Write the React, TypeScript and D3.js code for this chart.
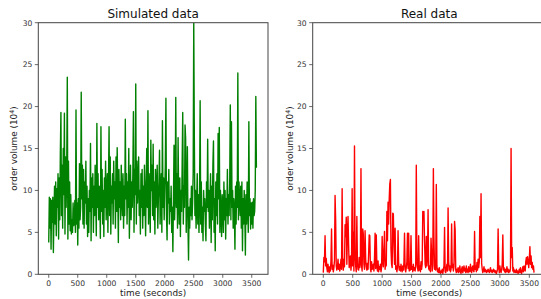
import React from "react";
import * as d3 from "d3";

const STEP = 10;
const simValues: number[] = [
  3.8, 9.2, 5.5, 9.0, 3.0, 8.8, 6.2, 9.2, 2.6, 7.0,
  10.5, 6.0, 11.0, 4.6, 10.2, 8.0, 12.0, 4.2, 11.5, 6.5,
  14.5, 19.3, 7.0, 13.0, 5.5, 15.0, 9.5, 19.2, 4.8, 14.0,
  8.0, 12.5, 23.5, 4.2, 13.5, 6.0, 11.0, 5.2, 9.5, 4.8,
  6.5, 5.0, 8.5, 5.8, 6.2, 8.8, 5.0, 19.6, 6.0, 8.5,
  3.5, 9.0, 5.5, 13.2, 6.5, 8.0, 21.7, 9.0, 13.0, 6.0,
  12.5, 5.5, 11.0, 8.5, 13.5, 6.0, 10.5, 4.5, 9.0, 5.0,
  10.0, 7.5, 15.6, 4.0, 11.5, 8.0, 12.0, 5.0, 10.5, 7.0,
  13.0, 9.0, 4.6, 18.0, 8.0, 12.0, 6.5, 10.5, 9.0, 4.3,
  17.6, 7.5, 12.5, 6.0, 10.0, 4.5, 11.5, 8.0, 13.5, 6.5,
  9.5, 12.0, 5.0, 11.0, 17.6, 7.0, 14.0, 4.8, 10.5, 8.5,
  12.0, 6.0, 13.5, 9.0, 11.0, 5.5, 14.0, 7.5, 15.1, 10.0,
  3.8, 12.5, 8.0, 11.0, 6.5, 13.0, 9.0, 7.0, 12.0, 5.5,
  10.5, 7.0, 18.5, 9.0, 12.0, 6.0, 11.0, 8.0, 15.0, 4.3,
  9.0, 13.0, 6.5, 11.0, 8.0, 12.0, 19.4, 5.0, 12.5, 9.5,
  22.7, 6.0, 13.5, 8.5, 11.0, 14.0, 7.0, 10.0, 4.8, 12.0,
  8.0, 12.5, 5.5, 10.5, 7.0, 13.0, 9.0, 4.6, 11.0, 15.0,
  8.0, 19.5, 6.0, 12.0, 9.5, 5.0, 16.0, 10.0, 13.0, 7.0,
  15.5, 6.5, 11.0, 4.8, 12.5, 8.0, 10.0, 13.0, 5.5, 9.0,
  11.0, 14.8, 6.0, 9.5, 12.0, 5.0, 18.3, 8.0, 11.5, 6.5,
  10.0, 13.0, 21.0, 7.0, 4.1, 11.0, 8.5, 12.5, 6.0, 9.0,
  7.5, 10.5, 5.0, 8.0, 2.7, 9.0, 15.4, 6.5, 10.0, 21.1,
  8.0, 12.0, 5.5, 16.3, 9.0, 6.0, 11.5, 4.5, 10.0, 7.5,
  13.0, 19.3, 6.0, 10.5, 8.0, 17.8, 16.2, 5.0, 9.0, 15.2,
  6.0, 1.7, 8.0, 5.5, 9.0, 7.0, 10.5, 6.5, 8.5, 12.0,
  30.0, 16.3, 7.0, 10.0, 5.5, 8.5, 12.0, 6.0, 9.5, 5.0,
  9.0, 20.7, 6.0, 11.0, 5.0, 8.0, 4.0, 10.0, 7.5, 9.0,
  6.0, 4.0, 11.0, 8.0, 16.1, 7.5, 10.0, 5.5, 9.0, 12.0,
  3.8, 10.5, 6.5, 13.0, 15.9, 5.0, 9.0, 2.8, 11.0, 7.0,
  12.0, 6.0, 16.8, 9.0, 17.5, 5.0, 10.0, 7.5, 4.5, 9.5,
  8.0, 5.0, 11.0, 6.5, 10.0, 4.2, 9.0, 7.0, 12.5, 6.0,
  9.5, 7.0, 11.0, 20.2, 6.5, 18.2, 8.0, 10.0, 5.5, 9.0,
  7.5, 3.0, 10.5, 6.0, 11.0, 8.0, 24.0, 6.5, 11.0, 9.0,
  7.0, 10.5, 5.5, 11.0, 2.8, 9.0, 6.0, 10.0, 7.5, 2.3,
  9.5, 6.0, 11.0, 8.0, 5.0, 18.2, 7.0, 9.0, 5.4, 8.5,
  6.0, 8.6, 5.5, 9.0, 7.0, 7.5, 10.0, 21.2, 12.7,
];

const realValues: number[] = [
  0.2, 2.0, 1.5, 4.6, 1.0, 1.9, 0.8, 0.3, 1.2, 0.5,
  0.2, 0.9, 0.4, 1.5, 5.4, 0.6, 1.1, 0.3, 0.8, 1.6,
  9.4, 6.5, 1.0, 0.5, 0.8, 1.8, 0.6, 1.2, 0.4, 0.9,
  1.8, 0.6, 10.2, 1.4, 0.5, 1.8, 0.9, 5.9, 4.5, 6.8,
  1.2, 5.0, 6.9, 3.5, 0.8, 1.6, 2.2, 0.5, 1.4, 10.2,
  1.0, 5.0, 0.4, 15.3, 2.5, 1.0, 0.3, 6.9, 1.2, 0.6,
  0.5, 2.0, 0.8, 1.5, 12.6, 1.0, 0.4, 5.4, 4.8, 1.2,
  0.6, 5.2, 1.8, 0.9, 0.5, 1.3, 0.6, 2.4, 4.7, 4.6,
  0.8, 0.3, 1.5, 0.6, 0.9, 1.2, 0.4, 1.9, 4.9, 0.7,
  4.7, 1.0, 0.4, 1.6, 0.3, 0.9, 0.6, 1.2, 0.3, 0.8,
  4.5, 1.5, 0.9, 3.0, 5.1, 0.6, 1.7, 1.0, 7.5, 4.0,
  8.6, 6.0, 9.0, 10.8, 11.3, 3.0, 1.2, 0.8, 7.3, 7.2,
  3.5, 1.2, 5.5, 0.6, 1.0, 0.3, 0.8, 5.2, 1.4, 0.5,
  0.9, 0.4, 1.2, 0.6, 0.3, 1.0, 0.5, 1.4, 4.9, 0.6,
  0.3, 0.8, 1.5, 4.9, 0.7, 4.9, 0.4, 1.1, 0.5, 4.6,
  0.6, 0.9, 0.3, 1.2, 0.5, 0.8, 0.4, 1.0, 13.0, 1.5,
  0.8, 0.4, 4.6, 0.5, 1.0, 0.3, 1.5, 0.6, 1.2, 7.5,
  6.8, 7.5, 4.0, 1.2, 0.8, 4.5, 1.0, 2.0, 7.7, 0.7,
  0.5, 1.0, 0.3, 4.3, 2.5, 0.4, 1.0, 12.6, 4.3, 0.6,
  1.2, 0.5, 10.7, 1.0, 0.3, 0.6, 0.2, 0.8, 0.3, 0.1,
  0.4, 0.2, 0.6, 0.1, 0.5, 1.0, 5.6, 0.3, 0.2, 0.7,
  1.2, 0.4, 7.9, 1.5, 0.5, 1.0, 0.3, 0.6, 6.0, 0.8,
  1.2, 0.4, 0.9, 6.3, 5.3, 0.5, 0.2, 0.6, 0.3, 0.8,
  0.2, 0.4, 1.0, 0.3, 0.1, 0.6, 0.9, 0.2, 0.5, 1.0,
  0.4, 0.7, 0.2, 1.0, 0.3, 0.6, 0.2, 0.9, 0.4, 0.3,
  1.2, 0.5, 0.2, 0.8, 1.0, 0.4, 0.3, 5.1, 0.6, 1.0,
  0.3, 1.4, 0.5, 1.8, 0.8, 1.5, 6.9, 2.0, 9.6, 1.3,
  0.6, 0.2, 0.5, 0.9, 0.3, 0.6, 0.4, 0.2, 0.5, 0.3,
  0.6, 0.4, 0.2, 0.5, 0.8, 0.3, 0.5, 0.2, 0.4, 0.6,
  0.3, 0.5, 0.2, 0.4, 0.1, 0.3, 0.6, 5.4, 0.9, 0.2,
  1.0, 0.4, 0.2, 0.6, 1.2, 4.7, 0.5, 0.8, 0.3, 0.6,
  0.2, 0.4, 0.9, 0.3, 0.6, 0.2, 0.5, 0.3, 0.7, 15.0,
  2.0, 3.2, 0.4, 0.8, 0.2, 0.5, 0.3, 0.2, 0.6, 0.2,
  0.4, 0.1, 0.3, 0.6, 0.2, 0.8, 0.3, 0.1, 0.5, 0.9,
  0.3, 1.0, 0.6, 0.4, 1.5, 2.0, 1.2, 2.1, 1.6, 0.8,
  1.8, 3.3, 1.2, 2.2, 0.8, 1.4, 0.6, 1.0, 0.2,
];

const xTicks = [0, 500, 1000, 1500, 2000, 2500, 3000, 3500];
const yTicks = [0, 5, 10, 15, 20, 25, 30];
const titles = ["Simulated data", "Real data"];
const xLabel = "time (seconds)";
const colors = ["#008000", "#ff0000"];

const W = 541;
const H = 299;
const FONT = "DejaVu Sans, sans-serif";

type PanelProps = {
  values: number[];
  title: string;
  color: string;
  x0: number;
  x1: number;
  labelX: number;
};

function Panel({ values, title, color, x0, x1, labelX }: PanelProps) {
  const top = 22.7;
  const bottom = 274.3;
  const x = d3.scaleLinear().domain([-180, 3780]).range([x0, x1]);
  const y = d3.scaleLinear().domain([0, 30]).range([bottom, top]);
  const line = d3
    .line<number>()
    .x((_, i) => x(i * STEP))
    .y((v) => y(v));
  const tc = "#444";
  const clipId = "clip-" + title.replace(/\s/g, "");
  return (
    <g>
      <clipPath id={clipId}>
        <rect x={x0} y={top} width={x1 - x0} height={bottom - top} />
      </clipPath>
      <path
        d={line(values) || ""}
        fill="none"
        stroke={color}
        strokeWidth={1.4}
        strokeLinejoin="round"
        clipPath={`url(#${clipId})`}
      />
      <rect x={x0} y={top} width={x1 - x0} height={bottom - top} fill="none" stroke={tc} strokeWidth={1} />
      {xTicks.map((t) => (
        <g key={"x" + t}>
          <line x1={x(t)} x2={x(t)} y1={bottom} y2={bottom + 3.5} stroke={tc} strokeWidth={0.8} />
          <text x={x(t)} y={bottom + 12} textAnchor="middle" fontSize={7.6} fill="#333" fontFamily={FONT}>
            {t}
          </text>
        </g>
      ))}
      {yTicks.map((t) => (
        <g key={"y" + t}>
          <line x1={x0 - 3.5} x2={x0} y1={y(t)} y2={y(t)} stroke={tc} strokeWidth={0.8} />
          <text x={x0 - 6} y={y(t) + 2.8} textAnchor="end" fontSize={7.6} fill="#333" fontFamily={FONT}>
            {t}
          </text>
        </g>
      ))}
      <text x={(x0 + x1) / 2} y={18} textAnchor="middle" fontSize={12} fill="#111" fontFamily={FONT}>
        {title}
      </text>
      <text x={(x0 + x1) / 2} y={296} textAnchor="middle" fontSize={8.9} fill="#222" fontFamily={FONT}>
        {xLabel}
      </text>
      <text
        transform={`translate(${labelX},${(top + bottom) / 2}) rotate(-90)`}
        textAnchor="middle"
        fontSize={8.9}
        fill="#222"
        fontFamily={FONT}
      >
        order volume (10<tspan dy={-3} fontSize={6.2}>4</tspan><tspan dy={3}>)</tspan>
      </text>
    </g>
  );
}

export default function App() {
  return (
    <svg
      width={W}
      height={H}
      style={{ position: "absolute", left: 0, top: 0, background: "#fff" }}
    >
      <rect width={W} height={H} fill="#fff" />
      <Panel values={simValues} title={titles[0]} color={colors[0]} x0={38.3} x1={268} labelX={17} />
      <Panel values={realValues} title={titles[1]} color={colors[1]} x0={312.7} x1={545.8} labelX={292.5} />
    </svg>
  );
}
